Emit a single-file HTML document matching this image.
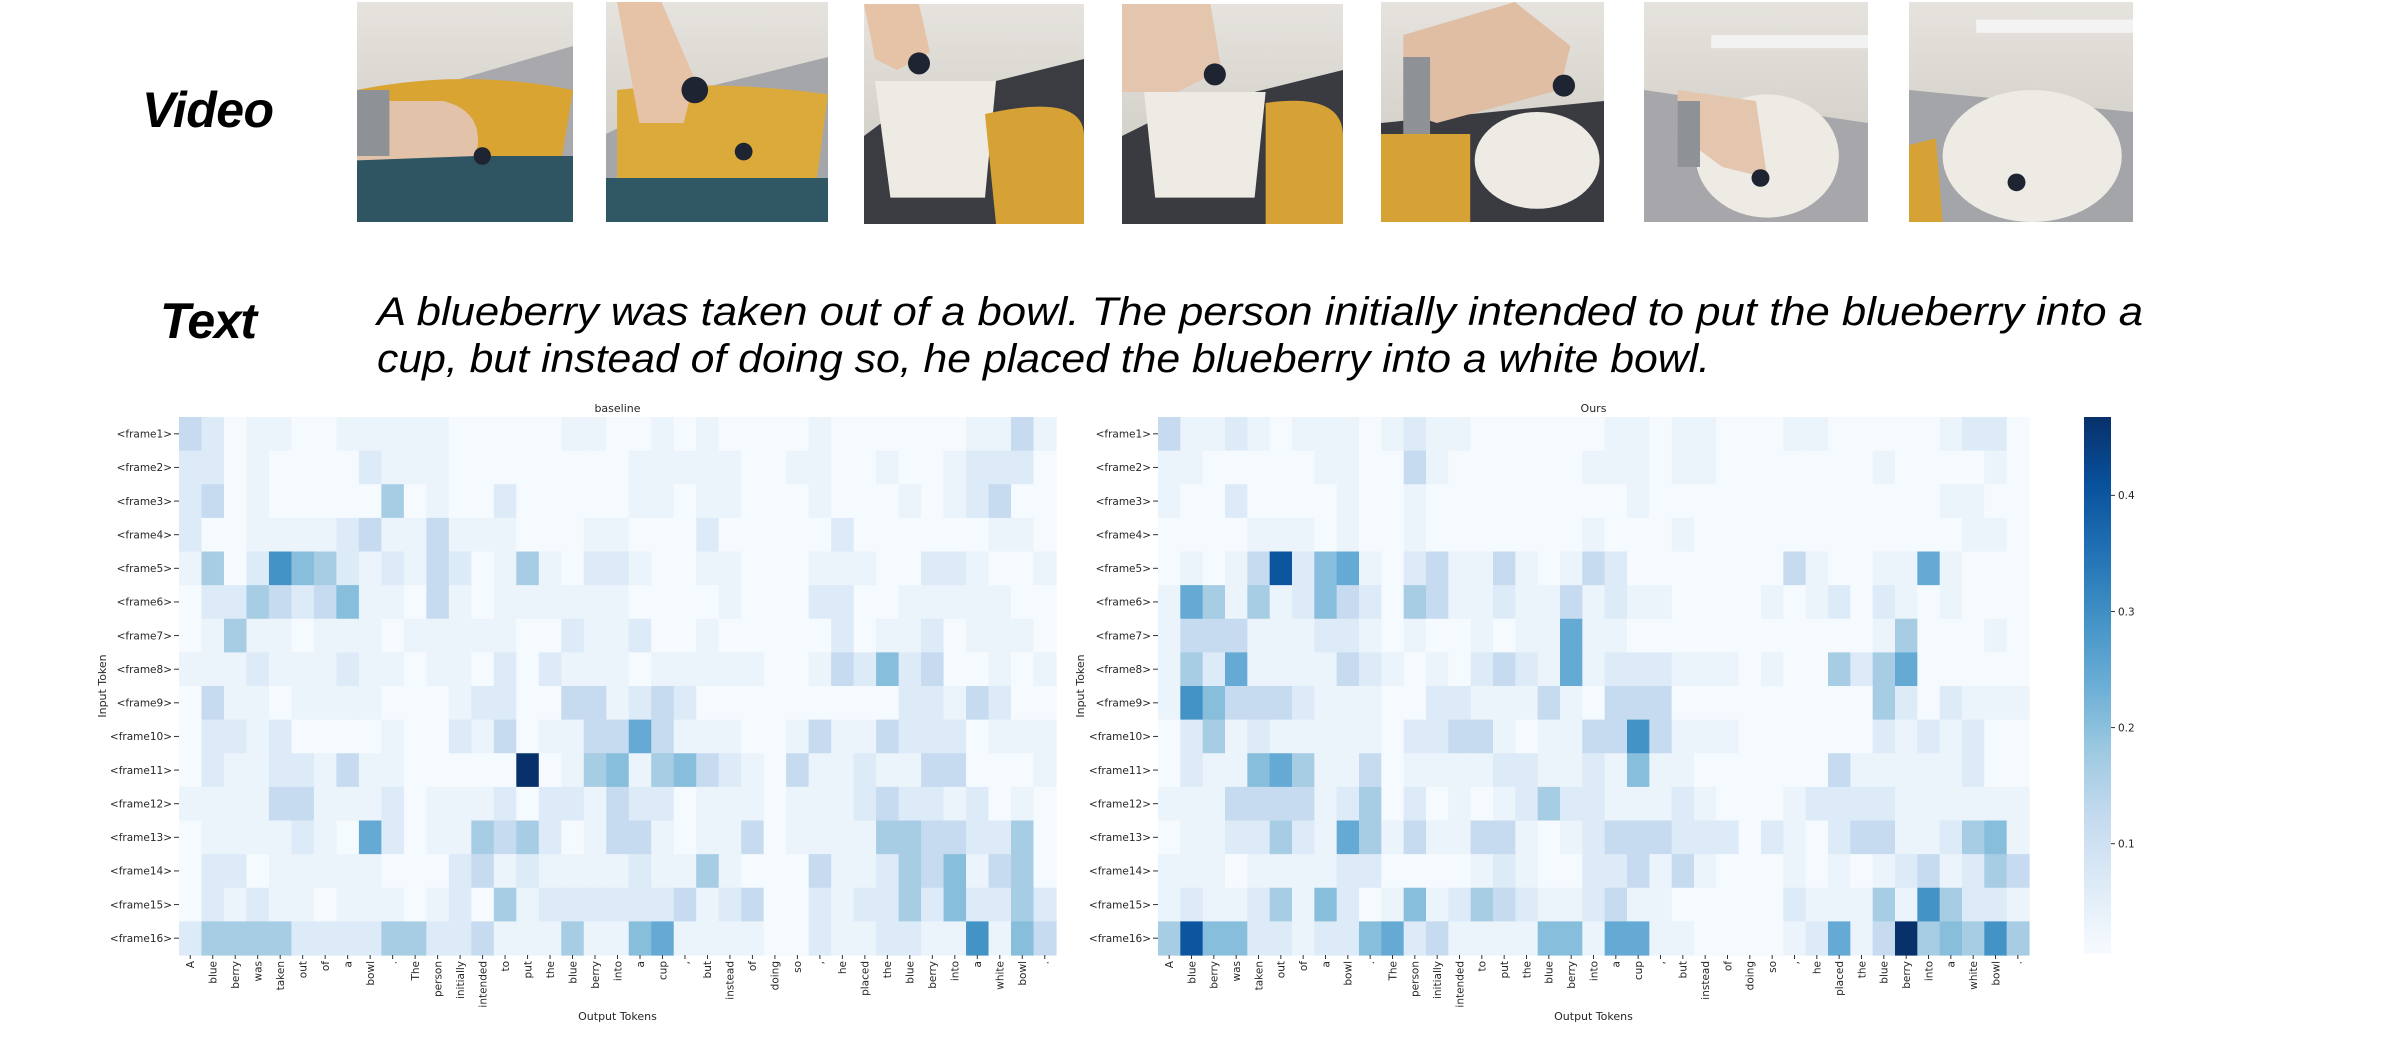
<!DOCTYPE html>
<html><head><meta charset="utf-8">
<style>
html,body{margin:0;padding:0;background:#fff;}
body{width:2389px;height:1039px;overflow:hidden;position:relative;}
svg{position:absolute;left:0;top:0;}
.tk{font-family:"DejaVu Sans","Liberation Sans",sans-serif;font-size:10.5px;fill:#262626;}
.lbl{font-family:"DejaVu Sans","Liberation Sans",sans-serif;font-size:11px;fill:#262626;}
.hand{font-family:"Liberation Sans",sans-serif;font-style:italic;fill:#000;}
</style></head>
<body>
<svg id="fig" width="2389" height="1039" viewBox="0 0 2389 1039" xmlns="http://www.w3.org/2000/svg">
<defs>
  <linearGradient id="wall" x1="0" y1="0" x2="0" y2="1"><stop offset="0" stop-color="#e6e3de"/><stop offset="1" stop-color="#c9c5be"/></linearGradient>
  <linearGradient id="cbgrad" x1="0" y1="1" x2="0" y2="0">
    <stop offset="0" stop-color="#f7fbff"/><stop offset="0.125" stop-color="#deebf7"/><stop offset="0.25" stop-color="#c6dbef"/>
    <stop offset="0.375" stop-color="#9ecae1"/><stop offset="0.5" stop-color="#6baed6"/><stop offset="0.625" stop-color="#4292c6"/>
    <stop offset="0.75" stop-color="#2171b5"/><stop offset="0.875" stop-color="#08519c"/><stop offset="1" stop-color="#08306b"/>
  </linearGradient>
</defs>

<text class="hand" x="142" y="127" font-size="50" font-weight="bold" textLength="132">Video</text>
<text class="hand" x="160" y="338" font-size="50" font-weight="bold" textLength="97">Text</text>
<text class="hand" x="377" y="325" font-size="40" textLength="1766" lengthAdjust="spacingAndGlyphs">A blueberry was taken out of a bowl. The person initially intended to put the blueberry into a</text>
<text class="hand" x="377" y="372" font-size="40" textLength="1333" lengthAdjust="spacingAndGlyphs">cup, but instead of doing so, he placed the blueberry into a white bowl.</text>

<g transform="translate(357,2) scale(2.16,2.2)">
  <rect width="100" height="100" fill="url(#wall)"/><polygon points="30,40 100,20 100,100 0,100 0,55" fill="#a9a9ad"/>
  <path d="M0,40 Q50,30 100,40 L95,70 L10,72 Z" fill="#d9a431"/><rect x="0" y="70" width="100" height="30" fill="#2e5561"/>
  <path d="M0,45 L40,45 Q60,50 55,70 L0,72 Z" fill="#e2c2a8"/><rect x="0" y="40" width="15" height="30" fill="#8e9296"/>
  <circle cx="58" cy="70" r="4" fill="#1e2431"/>
</g>
<g transform="translate(606,2) scale(2.22,2.2)">
  <rect width="100" height="100" fill="url(#wall)"/><polygon points="40,40 100,25 100,100 0,100 0,60" fill="#a5a6aa"/>
  <path d="M5,40 Q50,35 100,42 L95,80 L5,80 Z" fill="#dcaa3a"/><rect x="0" y="80" width="100" height="20" fill="#2f5864"/>
  <path d="M5,0 L25,0 L40,35 L35,55 L15,55 Z" fill="#e6c3a6"/><circle cx="40" cy="40" r="6" fill="#1e2431"/>
  <circle cx="62" cy="68" r="4" fill="#1e2431"/>
</g>
<g transform="translate(864,4) scale(2.2,2.2)">
  <rect width="100" height="100" fill="url(#wall)"/><polygon points="20,45 100,25 100,100 0,100 0,60" fill="#3b3c42"/>
  <path d="M5,35 L60,35 L55,88 L12,88 Z" fill="#eeebe4"/><path d="M55,50 Q100,40 100,60 L100,100 L60,100 Z" fill="#d7a235"/>
  <path d="M0,0 L25,0 L30,22 L15,30 L5,25 Z" fill="#e6c3a6"/><circle cx="25" cy="27" r="5" fill="#1e2431"/>
</g>
<g transform="translate(1122,4) scale(2.21,2.2)">
  <rect width="100" height="100" fill="url(#wall)"/><polygon points="20,50 100,30 100,100 0,100 0,60" fill="#3a3b41"/>
  <path d="M10,40 L65,40 L60,88 L15,88 Z" fill="#eeebe4"/><path d="M65,45 Q100,40 100,60 L100,100 L65,100 Z" fill="#d7a235"/>
  <path d="M0,0 L40,0 L45,30 L25,40 L0,40 Z" fill="#e4c6ae"/><circle cx="42" cy="32" r="5" fill="#1e2431"/>
</g>
<g transform="translate(1381,2) scale(2.23,2.2)">
  <rect width="100" height="100" fill="url(#wall)"/><polygon points="0,55 100,45 100,100 0,100" fill="#3a3b41"/>
  <path d="M0,60 L40,60 L40,100 L0,100 Z" fill="#d7a235"/><ellipse cx="70" cy="72" rx="28" ry="22" fill="#eeebe4"/>
  <path d="M10,15 L60,0 L85,20 L80,40 L25,55 L10,50 Z" fill="#dfbea3"/><rect x="10" y="25" width="12" height="35" fill="#8e9296"/>
  <circle cx="82" cy="38" r="5" fill="#1e2431"/>
</g>
<g transform="translate(1644,2) scale(2.24,2.2)">
  <rect width="100" height="100" fill="url(#wall)"/><polygon points="0,40 100,55 100,100 0,100" fill="#a7a7ab"/>
  <rect x="30" y="15" width="70" height="6" fill="#f2f2f2"/>
  <ellipse cx="55" cy="70" rx="32" ry="28" fill="#eeebe4"/><path d="M15,40 L50,45 L55,80 L35,75 L15,60 Z" fill="#e4c6ae"/>
  <rect x="15" y="45" width="10" height="30" fill="#8e9296"/><circle cx="52" cy="80" r="4" fill="#1e2431"/>
</g>
<g transform="translate(1909,2) scale(2.24,2.2)">
  <rect width="100" height="100" fill="url(#wall)"/><polygon points="0,40 100,50 100,100 0,100" fill="#a4a5a9"/>
  <rect x="30" y="8" width="70" height="6" fill="#f3f3f3"/>
  <path d="M0,65 L12,62 L15,100 L0,100 Z" fill="#d7a235"/><ellipse cx="55" cy="70" rx="40" ry="30" fill="#eeebe4"/>
  <circle cx="48" cy="82" r="4" fill="#1e2431"/>
</g>

<g id="hm1"></g>
<g id="hm2"></g>
<g id="cb"></g>
</svg>

<script>
const tokens = ["A","blue","berry","was","taken","out","of","a","bowl",".","The","person","initially","intended","to","put","the","blue","berry","into","a","cup",",","but","instead","of","doing","so",",","he","placed","the","blue","berry","into","a","white","bowl","."];
const frames = ["<frame1>","<frame2>","<frame3>","<frame4>","<frame5>","<frame6>","<frame7>","<frame8>","<frame9>","<frame10>","<frame11>","<frame12>","<frame13>","<frame14>","<frame15>","<frame16>"];
const cbTicks = [0.1, 0.2, 0.3, 0.4];
const vMin = 0.005, vMax = 0.4675;
const levelValues = [0.010, 0.033, 0.065, 0.121, 0.167, 0.204, 0.245, 0.292, 0.400, 0.466];
const baselineLevels = [
[3,2,0,1,1,0,0,1,1,1,1,1,0,0,0,0,0,1,1,0,0,1,0,1,0,0,0,0,1,0,0,0,0,0,0,1,1,3,1],
[2,2,0,1,0,0,0,0,2,1,1,1,0,0,0,0,0,0,0,0,1,1,1,1,1,0,0,1,1,0,0,1,0,0,1,2,2,2,0],
[2,3,0,1,0,0,0,0,0,4,0,1,0,0,2,0,0,0,0,0,1,1,0,1,1,0,0,0,1,0,0,0,1,0,1,2,3,0,0],
[2,0,0,1,1,1,1,2,3,1,1,3,1,1,1,0,0,0,1,1,0,0,0,2,0,0,0,0,0,2,0,0,0,0,0,0,1,1,0],
[1,4,0,2,7,5,4,2,1,2,1,3,2,0,1,4,1,0,2,2,1,0,0,1,1,0,0,0,1,1,1,0,0,2,2,1,0,0,1],
[0,2,2,4,3,2,3,5,1,1,0,3,1,0,1,1,1,1,1,1,0,0,0,0,1,0,0,0,2,2,0,0,1,1,1,1,1,0,0],
[0,1,4,1,1,0,1,1,1,0,1,1,1,1,1,0,0,2,1,1,2,0,0,1,0,0,0,0,0,2,0,1,1,2,0,1,1,1,0],
[1,1,1,2,1,1,1,2,1,1,0,1,1,0,2,0,2,1,1,1,0,1,1,1,1,1,0,0,1,3,2,5,2,3,0,0,1,0,1],
[0,3,1,1,0,1,1,1,1,0,0,0,1,2,2,0,0,3,3,1,2,3,2,0,0,0,0,0,0,0,0,0,2,2,1,3,2,0,0],
[0,2,2,1,2,0,0,0,0,1,0,0,2,1,3,0,1,1,3,3,6,3,1,1,1,0,0,1,3,1,1,3,2,2,2,0,1,1,1],
[0,2,1,1,2,2,1,3,1,1,0,0,0,0,0,9,0,1,4,5,1,4,5,3,2,1,0,3,1,1,2,1,1,3,3,0,0,0,1],
[1,1,1,1,3,3,1,1,1,2,0,1,1,1,2,0,2,2,1,3,2,2,0,1,1,1,0,1,1,1,2,3,2,2,1,2,0,1,0],
[0,1,1,1,1,2,1,0,6,2,0,1,1,4,3,4,2,0,1,3,3,1,0,1,1,3,0,1,1,1,1,4,4,3,3,2,2,4,0],
[0,2,2,0,1,1,1,1,1,0,0,0,2,3,1,2,1,1,1,1,2,1,1,4,1,0,0,0,3,1,1,2,4,3,5,1,3,4,0],
[0,2,1,2,1,1,0,1,1,1,0,1,2,0,4,1,2,2,2,2,2,2,3,1,2,3,0,0,2,1,2,2,4,2,5,2,2,4,2],
[2,4,4,4,4,2,2,2,2,4,4,2,2,3,1,1,1,4,1,1,5,6,1,1,1,1,0,0,2,1,1,2,2,1,1,7,1,5,3]
];
const oursLevels = [
[3,1,1,2,1,0,1,1,1,0,1,2,1,1,0,0,0,0,0,0,1,1,0,1,1,0,0,0,1,1,0,0,0,0,0,1,2,2,0],
[1,1,0,0,0,0,0,1,1,0,0,3,1,0,0,0,0,0,0,1,1,1,0,1,1,0,0,0,0,0,0,0,1,0,0,0,0,1,0],
[1,0,0,2,0,0,0,0,1,0,0,1,0,0,0,0,0,0,0,0,0,1,0,0,0,0,0,0,0,0,0,0,0,0,0,1,1,0,0],
[0,0,0,0,1,1,1,0,1,0,0,1,0,0,0,0,0,0,0,1,0,0,0,1,0,0,0,0,0,0,0,0,0,0,0,0,1,1,0],
[0,1,0,1,3,8,2,5,6,1,0,2,3,1,1,3,1,0,1,3,2,0,0,0,0,0,0,0,3,1,0,0,1,1,6,1,0,0,0],
[1,6,4,1,4,1,2,5,3,2,0,4,3,1,1,2,1,1,3,1,2,1,1,0,0,0,0,1,0,1,2,0,2,1,0,1,0,0,0],
[1,3,3,3,1,1,1,2,2,1,0,1,0,0,1,0,1,1,6,1,1,0,0,0,0,0,0,0,0,0,0,0,1,4,0,0,0,1,0],
[1,4,2,6,1,1,1,1,3,2,1,0,1,0,2,3,2,1,6,1,2,2,2,1,1,1,0,1,0,0,4,2,4,6,0,0,0,0,0],
[1,7,5,3,3,3,2,1,1,1,0,0,2,2,1,1,1,3,1,0,3,3,3,0,0,0,0,0,0,0,0,0,4,2,0,2,1,1,1],
[0,2,4,1,2,1,1,1,1,1,0,2,2,3,3,1,0,1,1,3,3,7,3,1,1,1,0,0,0,0,0,0,2,1,2,1,2,0,0],
[0,2,1,1,5,6,4,1,1,3,0,1,1,1,1,2,2,1,1,2,1,5,1,1,0,0,0,0,0,0,3,1,1,1,1,1,2,0,0],
[1,1,1,3,3,3,3,1,2,4,0,2,0,1,0,1,2,4,2,2,1,1,1,2,1,0,0,0,1,2,2,2,2,1,1,1,1,1,1],
[0,1,1,2,2,4,2,1,6,4,1,3,1,1,3,3,1,0,1,2,3,3,3,2,2,2,0,2,1,0,2,3,3,1,1,2,4,5,1],
[1,1,1,0,1,1,1,1,2,2,0,0,0,0,1,2,1,0,0,2,2,3,1,3,1,0,0,0,1,0,1,0,1,2,3,1,2,4,3],
[1,2,1,1,2,4,1,5,2,0,1,5,1,2,4,3,2,1,1,2,3,1,1,0,0,0,0,0,2,1,1,1,4,1,7,4,2,2,1],
[4,8,5,5,2,2,1,2,2,5,6,2,3,1,1,1,1,5,5,1,6,6,1,1,0,0,0,0,1,2,6,1,3,9,4,5,4,7,4]
];

const NS = "http://www.w3.org/2000/svg";
const stops = ["#f7fbff","#deebf7","#c6dbef","#9ecae1","#6baed6","#4292c6","#2171b5","#08519c","#08306b"].map(h=>[parseInt(h.slice(1,3),16),parseInt(h.slice(3,5),16),parseInt(h.slice(5,7),16)]);
function blues(v){
  let t=(v-vMin)/(vMax-vMin); t=Math.max(0,Math.min(1,t));
  const p=t*(stops.length-1), i=Math.min(stops.length-2,Math.floor(p)), f=p-i;
  const c=stops[i].map((a,k)=>Math.round(a+(stops[i+1][k]-a)*f));
  return "rgb("+c.join(",")+")";
}
function mk(tag, attrs, parent){
  const e=document.createElementNS(NS,tag);
  for(const k in attrs) e.setAttribute(k,attrs[k]);
  parent.appendChild(e); return e;
}
function drawHeatmap(g, levels, x0, x1, y0, y1, title, ylabX, labelRight, tag){
  const nC=tokens.length, nR=frames.length;
  const xs=i=>x0+(x1-x0)*i/nC, ys=j=>y0+(y1-y0)*j/nR;
  const cw=(x1-x0)/nC, rh=(y1-y0)/nR;
  levels.forEach((row,j)=>row.forEach((lv,i)=>{
    const v=levelValues[lv];
    const r=mk("rect",{x:xs(i).toFixed(2),y:ys(j).toFixed(2),width:(cw+0.6).toFixed(2),height:(rh+0.6).toFixed(2),fill:blues(v)},g);
    
    
  }));
  frames.forEach((f,j)=>{
    const cy=ys(j)+rh/2;
    mk("line",{x1:x0-5,x2:x0,y1:cy,y2:cy,stroke:"#333","stroke-width":1},g);
    const t=mk("text",{x:labelRight,y:cy+3.8,"text-anchor":"end",class:"tk"},g);
    t.textContent=f;
    
    
  });
  tokens.forEach((tk,i)=>{
    const cx=xs(i)+cw/2;
    mk("line",{x1:cx,x2:cx,y1:y1,y2:y1+4,stroke:"#333","stroke-width":1},g);
    const t=mk("text",{x:0,y:0,"text-anchor":"end",class:"tk",transform:"translate("+(cx+3.8)+","+(y1+6)+") rotate(-90)"},g);
    t.textContent=tk;
    
    
  });
  const tt=mk("text",{x:(x0+x1)/2,y:y0-5,"text-anchor":"middle",class:"lbl"},g);
  tt.textContent=title;
  
  
  const xl=mk("text",{x:(x0+x1)/2,y:1020,"text-anchor":"middle",class:"lbl"},g);
  xl.textContent="Output Tokens";
  
  
  const yl=mk("text",{x:0,y:0,"text-anchor":"middle",class:"lbl",transform:"translate("+ylabX+","+((y0+y1)/2)+") rotate(-90)"},g);
  yl.textContent="Input Token";
  
  
}
drawHeatmap(document.getElementById("hm1"), baselineLevels, 179, 1056, 417, 955, "baseline", 106, 172, "baseline");
drawHeatmap(document.getElementById("hm2"), oursLevels, 1158, 2029, 417, 955, "Ours", 1084, 1151, "ours");

const cb=document.getElementById("cb");
const cbY0=417, cbY1=954, cbX=2084, cbW=27;
const cbScale=v=>cbY1-(v-vMin)/(vMax-vMin)*(cbY1-cbY0);
const bar=mk("rect",{x:cbX,y:cbY0,width:cbW,height:cbY1-cbY0,fill:"url(#cbgrad)"},cb);


cbTicks.forEach(v=>{
  const y=cbScale(v);
  mk("line",{x1:cbX+cbW,x2:cbX+cbW+4,y1:y,y2:y,stroke:"#333","stroke-width":1},cb);
  const t=mk("text",{x:cbX+cbW+7,y:y+3.8,class:"tk"},cb);
  t.textContent=v.toFixed(1);
  
  
});
</script>
</body></html>
